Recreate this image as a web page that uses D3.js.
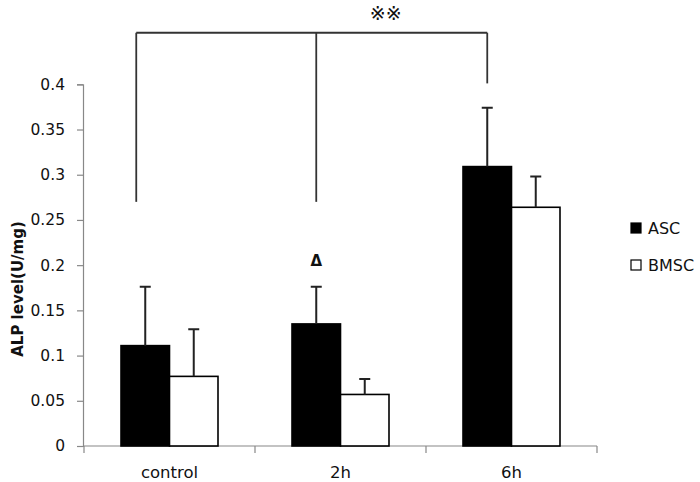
<!DOCTYPE html>
<html><head><meta charset="utf-8">
<script src="https://cdn.jsdelivr.net/npm/d3@7"></script>
<style>body{margin:0;background:#fff}svg{display:block}</style>
</head><body>
<svg id="c" width="700" height="482"></svg>
<script>
const categories = ["control", "2h", "6h"];
const seriesNames = ["ASC", "BMSC"];
const ascValues = [0.111, 0.135, 0.309];
const ascErrors = [0.065, 0.041, 0.065];
const bmscValues = [0.077, 0.057, 0.264];
const bmscErrors = [0.052, 0.017, 0.034];
const yTicks = [0, 0.05, 0.1, 0.15, 0.2, 0.25, 0.3, 0.35, 0.4];
const yTickLabels = ["0", "0.05", "0.1", "0.15", "0.2", "0.25", "0.3", "0.35", "0.4"];
const yTitle = "ALP level(U/mg)";
const sigMark = "※※";
const deltaMark = "Δ";
const bracketTop = 0.457;
const bracketDrops = [0.27, 0.27, 0.401];
const deltaAt = 0.205;

const svg = d3.select("#c");
const FONT = "'DejaVu Sans', Verdana, sans-serif";

const x0 = d3.scaleBand().domain(categories).range([84, 597]).padding(0);
const x1 = d3.scaleBand().domain(seriesNames).range([0, x0.bandwidth()]).paddingInner(0).paddingOuter(0.763);
const y = d3.scaleLinear().domain([0, 0.4]).range([446, 84.3]);

const data = categories.map((c, i) => ({
  cat: c,
  vals: [
    {s: "ASC", v: ascValues[i], e: ascErrors[i]},
    {s: "BMSC", v: bmscValues[i], e: bmscErrors[i]}
  ]
}));

// Y axis
const yAxis = d3.axisLeft(y).tickValues(yTicks).tickFormat((d, i) => yTickLabels[i]).tickSize(6).tickPadding(12);
const gy = svg.append("g").attr("transform", "translate(83,0)").call(yAxis);
gy.select(".domain").attr("stroke", "#888").attr("stroke-width", 1.2);
gy.selectAll(".tick line").attr("stroke", "#888").attr("stroke-width", 1.2);
gy.selectAll("text").attr("font-family", FONT).attr("font-size", 15.5).attr("fill", "#111");

// X axis (ticks at band boundaries)
const gx = svg.append("g").attr("transform", "translate(0,446)");
gx.append("line").attr("x1", x0.range()[0]).attr("x2", x0.range()[1]).attr("stroke", "#888").attr("stroke-width", 1.2);
const bounds = categories.map(c => x0(c)).concat([x0.range()[1]]);
gx.selectAll("line.tk").data(bounds).join("line").attr("class", "tk")
  .attr("x1", d => d).attr("x2", d => d).attr("y1", 0).attr("y2", 7)
  .attr("stroke", "#888").attr("stroke-width", 1.2);
gx.selectAll("text").data(categories).join("text")
  .attr("x", d => x0(d) + x0.bandwidth() / 2).attr("y", 32)
  .attr("text-anchor", "middle").attr("font-family", FONT).attr("font-size", 16.5).attr("fill", "#111")
  .text(d => d);

// Bars
const groups = svg.append("g").selectAll("g").data(data).join("g")
  .attr("transform", d => `translate(${x0(d.cat)},0)`);
groups.selectAll("rect").data(d => d.vals).join("rect")
  .attr("x", d => x1(d.s)).attr("width", x1.bandwidth())
  .attr("y", d => y(d.v)).attr("height", d => y(0) - y(d.v))
  .attr("fill", d => d.s === "ASC" ? "#000" : "#fff")
  .attr("stroke", "#000").attr("stroke-width", 1.6);

// Error bars (upper only)
const cap = 5.5;
groups.selectAll("path.err").data(d => d.vals).join("path").attr("class", "err")
  .attr("d", d => {
    const cx = x1(d.s) + x1.bandwidth() / 2;
    const top = y(d.v + d.e);
    return `M${cx},${y(d.v)}V${top}M${cx - cap},${top}H${cx + cap}`;
  })
  .attr("stroke", "#222").attr("stroke-width", 2).attr("fill", "none");

// Significance bracket
const ascCenter = c => x0(c) + x1("ASC") + x1.bandwidth() / 2;
const bx = [ascCenter(categories[0]) - 9, ascCenter(categories[1]), ascCenter(categories[2])];
const bracket = svg.append("g").attr("stroke", "#333").attr("stroke-width", 1.8).attr("fill", "none");
bracket.append("line").attr("x1", bx[0]).attr("x2", bx[2]).attr("y1", y(bracketTop)).attr("y2", y(bracketTop));
bracket.selectAll("line.drop").data(bracketDrops).join("line").attr("class", "drop")
  .attr("x1", (d, i) => bx[i]).attr("x2", (d, i) => bx[i])
  .attr("y1", y(bracketTop)).attr("y2", d => y(d));
svg.append("text").attr("x", (bx[1] + bx[2]) / 2 - 16).attr("y", y(bracketTop) - 20)
  .attr("text-anchor", "middle").attr("dominant-baseline", "central")
  .attr("font-family", FONT).attr("font-size", 19).attr("fill", "#111").text(sigMark);

// Delta mark
svg.append("text").attr("x", ascCenter(categories[1])).attr("y", y(deltaAt))
  .attr("text-anchor", "middle").attr("dominant-baseline", "central")
  .attr("font-family", FONT).attr("font-weight", "bold").attr("font-size", 15).attr("fill", "#111").text(deltaMark);

// Y title
svg.append("text").attr("transform", "translate(18,289) rotate(-90)")
  .attr("text-anchor", "middle").attr("dominant-baseline", "central").attr("font-family", FONT).attr("font-weight", "bold")
  .attr("font-size", 15).attr("fill", "#111").text(yTitle);

// Legend
const leg = svg.append("g").selectAll("g").data(seriesNames).join("g")
  .attr("transform", (d, i) => `translate(631,${223 + i * 37})`);
leg.append("rect").attr("width", 10).attr("height", 10)
  .attr("fill", d => d === "ASC" ? "#000" : "#fff").attr("stroke", "#000").attr("stroke-width", 1.2);
leg.append("text").attr("x", 17).attr("y", 5.5).attr("dominant-baseline", "central")
  .attr("font-family", FONT).attr("font-size", 16).attr("fill", "#111").text(d => d);
</script>
</body></html>
